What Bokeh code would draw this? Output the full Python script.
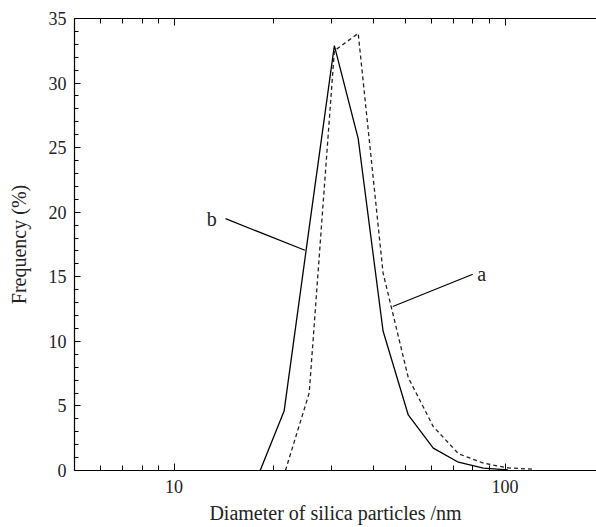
from bokeh.plotting import figure
from bokeh.models import LogAxis, FixedTicker, Range1d, ColumnDataSource
from bokeh.embed import file_html
from bokeh.resources import INLINE
from bokeh.core.properties import value

# ---- data ----
diameter_b = [18.2, 21.5, 25.6, 30.5, 36.0, 42.8, 51.0, 60.7, 72.3, 86.0, 102.0]
freq_b = [0.0, 4.6, 18.8, 32.9, 25.7, 10.8, 4.3, 1.73, 0.64, 0.18, 0.05]
diameter_a = [21.7, 25.6, 30.5, 36.0, 42.8, 51.0, 60.7, 72.3, 86.0, 102.0, 122.0]
freq_a = [0.0, 6.0, 32.5, 33.85, 15.3, 7.2, 3.4, 1.3, 0.57, 0.2, 0.1]

x_major = [10, 100]
x_minor = [5, 6, 7, 8, 9, 20, 30, 40, 50, 60, 70, 80, 90, 200]
x_labels = {10: "10", 100: "100"}
y_major = [0, 5, 10, 15, 20, 25, 30, 35]
y_minor = [i for i in range(0, 36)]

label_names = ["a", "b"]
label_x = [85.0, 13.0]
label_y = [15.25, 19.45]
ptr_x0 = [45.8, 14.3]
ptr_y0 = [12.7, 19.5]
ptr_x1 = [79.9, 24.85]
ptr_y1 = [15.2, 17.05]

FONT = "Liberation Serif"

p = figure(width=596, height=527, x_axis_type="log",
           x_range=Range1d(5, 189), y_range=Range1d(0, 35),
           output_backend="svg", toolbar_location=None,
           min_border_left=74, min_border_right=0,
           min_border_top=18, min_border_bottom=57)
p.outline_line_color = None
p.xgrid.visible = False
p.ygrid.visible = False
p.background_fill_color = "white"
p.border_fill_color = "white"

xt = FixedTicker(ticks=x_major, minor_ticks=x_minor)
yt = FixedTicker(ticks=y_major, minor_ticks=y_minor)

xa = p.xaxis[0]
xa.ticker = xt
xa.major_label_overrides = x_labels
xa.axis_label = "Diameter of silica particles /nm"

ya = p.yaxis[0]
ya.ticker = yt
ya.axis_label = "Frequency (%)"

for ax in (xa, ya):
    ax.axis_line_color = "black"
    ax.axis_line_width = 1.2
    ax.major_tick_line_color = "black"
    ax.minor_tick_line_color = "black"
    ax.major_tick_out = 0
    ax.minor_tick_out = 0
    ax.major_label_text_font = FONT
    ax.major_label_text_font_size = "18px"
    ax.major_label_text_color = "#222222"
    ax.axis_label_text_font = FONT
    ax.axis_label_text_font_size = "20px"
    ax.axis_label_text_font_style = "normal"
    ax.axis_label_text_color = "#222222"

xa.major_tick_in = 7
xa.minor_tick_in = 5
xa.major_label_standoff = 9
xa.axis_label_standoff = 6
ya.major_tick_in = 6
ya.minor_tick_in = 4
ya.major_label_standoff = 8
ya.axis_label_standoff = 16

top = LogAxis(ticker=xt, major_label_text_font_size="0px",
              major_tick_in=7, major_tick_out=0, minor_tick_in=5, minor_tick_out=0,
              axis_line_color="black", axis_line_width=1.2,
              major_label_standoff=0)
top.major_label_overrides = {10: "", 100: ""}
p.add_layout(top, "above")

p.line(diameter_b, freq_b, line_color="black", line_width=1.3)
p.line(diameter_a, freq_a, line_color="#222222", line_width=1.3, line_dash="4 3")

src = ColumnDataSource(dict(x=label_x, y=label_y, t=label_names,
                            x0=ptr_x0, y0=ptr_y0, x1=ptr_x1, y1=ptr_y1))
p.segment(x0="x0", y0="y0", x1="x1", y1="y1", source=src,
          line_color="black", line_width=1.2)
p.text(x="x", y="y", text="t", source=src, text_font=value(FONT),
       text_font_size="20px", text_align="center", text_baseline="middle",
       text_color="#222222")

open("out.html", "w").write(file_html(p, INLINE))
